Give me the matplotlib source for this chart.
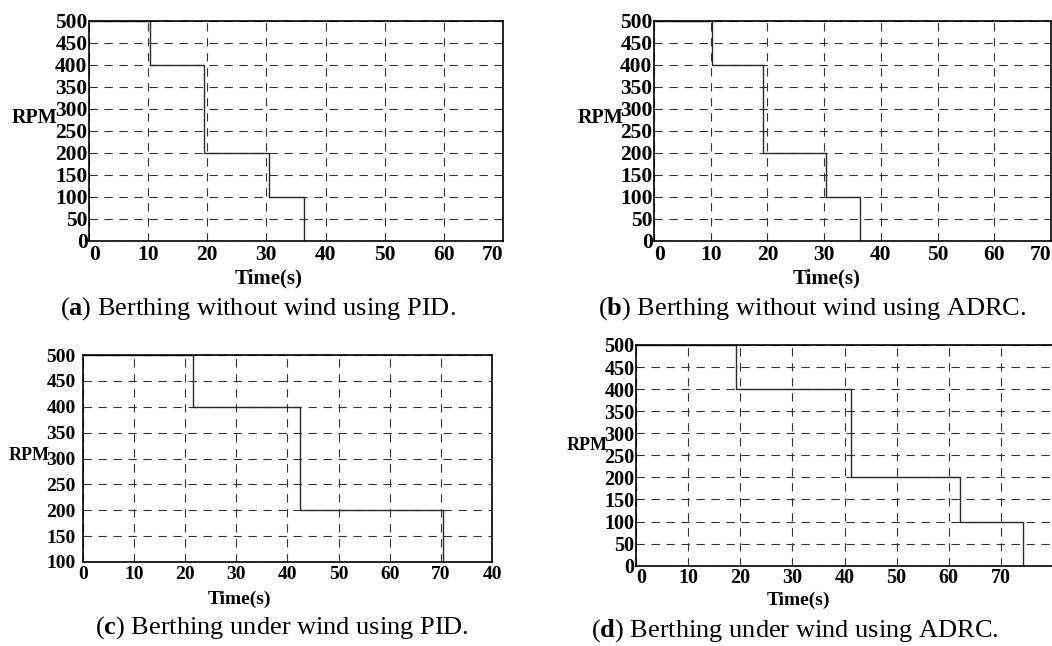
import matplotlib
matplotlib.use('Agg')
import matplotlib.pyplot as plt

plt.rcParams['font.family'] = 'Liberation Serif'
plt.rcParams['mathtext.fontset'] = 'custom'
plt.rcParams['mathtext.rm'] = 'Liberation Serif'
plt.rcParams['mathtext.bf'] = 'Liberation Serif:bold'

W, H = 1052, 646

# switch times (s) and RPM levels for each case
t_a = [0, 10.3, 19.4, 30.4, 36.4]
rpm_a = [500, 400, 200, 100, 0]
t_b = [0, 10.3, 19.3, 30.3, 36.3]
rpm_b = [500, 400, 200, 100, 0]
t_c = [0, 21.5, 42.5, 70.4]
rpm_c = [500, 400, 200, 100]
t_d = [0, 19.2, 41.2, 62.2, 74.2]
rpm_d = [500, 400, 200, 100, 0]

xticks_ab = [0, 10, 20, 30, 40, 50, 60, 70]
xticks_c = [0, 10, 20, 30, 40, 50, 60, 70, 80]
xlabels_c = ['0', '10', '20', '30', '40', '50', '60', '70', '40']
xticks_d = [0, 10, 20, 30, 40, 50, 60, 70]
yticks_full = [0, 50, 100, 150, 200, 250, 300, 350, 400, 450, 500]
yticks_c = [100, 150, 200, 250, 300, 350, 400, 450, 500]

captions = ['a', 'b', 'c', 'd']
caption_text = ['Berthing without wind using PID.',
                'Berthing without wind using ADRC.',
                'Berthing under wind using PID.',
                'Berthing under wind using ADRC.']

fig = plt.figure(figsize=(W / 100, H / 100), dpi=100)


def px_axes(left, top, right, bottom):
    return [left / W, 1 - bottom / H, (right - left) / W, (bottom - top) / H]


def panel(rect, t, rpm, xlim, ylim, xt, xl, yt, fs, xpad, ypad,
          edge_align=True):
    ax = fig.add_axes(px_axes(*rect))
    ax.step(t, rpm, where='post', color='#2a2a2a', linewidth=1.0)
    ax.set_xlim(*xlim)
    ax.set_ylim(*ylim)
    ax.set_xticks(xt, xl, fontsize=fs, fontweight='bold')
    ax.set_yticks(yt, [str(v) for v in yt], fontsize=fs, fontweight='bold')
    ax.tick_params(length=0)
    ax.tick_params(axis='x', pad=xpad)
    ax.tick_params(axis='y', pad=ypad)
    ax.grid(True, color='#333333', linestyle=(0, (7.5, 6)), linewidth=0.8)
    for s in ax.spines.values():
        s.set_linewidth(1.2)
    if edge_align:
        labs = ax.get_xticklabels()
        labs[0].set_ha('left')
        if xt[-1] == xlim[1]:
            labs[-1].set_ha('right')
    return ax


panel((89, 21, 503, 241), t_a, rpm_a, (0, 70), (0, 500),
      xticks_ab, [str(v) for v in xticks_ab], yticks_full, 15.5, 3, 1)
panel((654, 21, 1051, 241), t_b, rpm_b, (0, 70), (0, 500),
      xticks_ab, [str(v) for v in xticks_ab], yticks_full, 15.5, 3, 1)
panel((82.7, 355, 492, 562), t_c, rpm_c, (0, 80), (100, 500),
      xticks_c, xlabels_c, yticks_c, 14, 3, 5, edge_align=False)
panel((636, 345, 1053, 565.7), t_d, rpm_d, (0, 80), (0, 500),
      xticks_d, [str(v) for v in xticks_d], yticks_full, 14.5, 1.5, 1)

# axis labels placed like the exported figure
xlab_pos = [(269, 278, 15), (827, 278, 15), (239, 599, 14), (798, 600, 14)]
ylab_pos = [(35, 118, 14.5), (601, 118, 14.5), (29, 456, 13), (587, 445, 13)]
for (x, y, fs) in xlab_pos:
    fig.text(x / W, 1 - y / H, 'Time(s)', ha='center', va='center',
             fontsize=fs, fontweight='bold')
for (x, y, fs) in ylab_pos:
    fig.text(x / W, 1 - y / H, 'RPM', ha='center', va='center',
             fontsize=fs, fontweight='bold')

cap_pos = [(258, 309), (812, 309), (282, 628), (795, 631)]
for letter, txt, (x, y) in zip(captions, caption_text, cap_pos):
    fig.text(x / W, 1 - y / H, r'($\mathbf{' + letter + r'}$) ' + txt,
             ha='center', va='center', fontsize=19)

fig.savefig('out.png', dpi=100)
